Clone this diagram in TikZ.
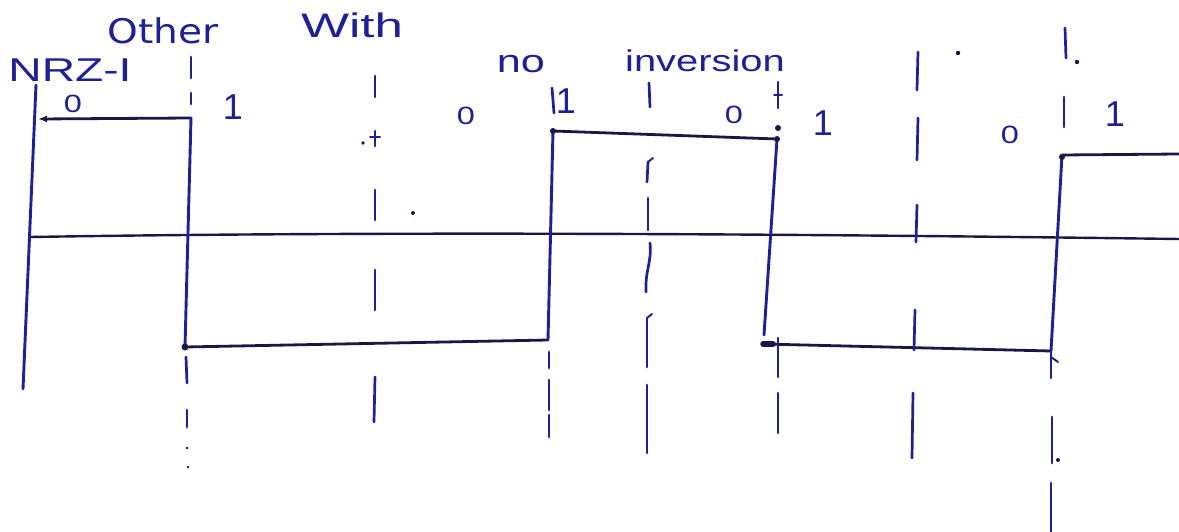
\documentclass[tikz,border=0pt]{standalone}
\usepackage{fontspec}
\setmainfont{Liberation Sans}
\newfontfamily\widefont{DejaVu Sans}
\usetikzlibrary{arrows.meta}
\definecolor{ink}{RGB}{30,32,150}
\definecolor{dark}{RGB}{24,24,72}
\newcommand{\hw}[2]{\scalebox{#1}[1]{#2}}
\tikzset{
  vline/.style={line width=2.9pt, draw=ink, line cap=round},
  hline/.style={line width=2.8pt, draw=dark, line cap=round, line join=round},
  dsh/.style={line width=2.7pt, draw=ink, line cap=round},
  lbl/.style={text=ink, inner sep=0pt, outer sep=0pt},
  zero/.style={lbl, font=\fontsize{25}{25}\selectfont},
  one/.style={lbl, font=\fontsize{36}{36}\selectfont},
}
\begin{document}
\begin{tikzpicture}[x=1pt,y=-1pt]
\useasboundingbox (0,0) rectangle (1179,532);

% titles
\node[lbl, font=\fontsize{33}{33}\selectfont] (nrz) at (70,70) {\hw{1.4}{NRZ-I}};
\node[lbl, font=\widefont\fontsize{34}{34}\selectfont] (other) at (163,31) {\hw{1.15}{Other}};
\node[lbl, font=\fontsize{34}{34}\selectfont] (with) at (352,25) {\hw{1.5}{With}};
\node[lbl, font=\fontsize{32}{32}\selectfont] (no) at (521,64) {\hw{1.35}{no}};
\node[lbl, font=\fontsize{30}{30}\selectfont] (inv) at (705,61) {\hw{1.33}{inversion}};

% bit values
\node[zero] (b1) at (73,104) {\hw{1.3}{0}};
\node[one]  (b2) at (233,107) {1};
\node[zero] (b3) at (466,116) {\hw{1.3}{0}};
\node[one]  (b4) at (566,101) {1};
\node[zero] (b5) at (734,115) {\hw{1.3}{0}};
\node[one]  (b6) at (823,123) {1};
\node[zero] (b7) at (1010,135) {\hw{1.3}{0}};
\node[one]  (b8) at (1115,114) {1};

% axis
\draw[hline, line width=2.4pt] (30,237) .. controls (400,231) and (800,234) .. (1179,239);

% waveform corners
\coordinate (p0) at (36,85);
\coordinate (p1) at (23,389);
\coordinate (a0) at (38,119);
\coordinate (a1) at (191,118);
\coordinate (c1) at (185,347);
\coordinate (c2) at (548,340);
\coordinate (c3) at (553,131);
\coordinate (c4) at (777,139);
\coordinate (c5) at (764,335);
\coordinate (c6) at (763,344);
\coordinate (c7) at (1051,351);
\coordinate (c8) at (1062,155);
\coordinate (c9) at (1179,154);

\draw[vline] (p0) -- (p1);
\draw[hline, {Latex[length=9pt,width=7pt]}-] (a0) -- (a1);
\draw[vline] (a1) -- (c1);
\draw[hline] (c1) -- (c2);
\draw[vline] (c2) -- (c3);
\draw[hline] (c3) -- (c4);
\draw[vline] (c4) -- (c5);
\draw[hline] (c6) -- (c7);
\draw[line width=5.5pt, draw=dark, line cap=round] (763,344) -- (773,344);
\draw[vline] (c7) -- (c8);
\draw[hline] (c8) -- (c9);
\fill[dark] (c1) circle (3.5pt) (c3) circle (3pt) (c4) circle (3pt);

% dashed bit boundaries (hand-drawn segments)
\foreach \xa/\ya/\xb/\yb in {
  191/57/191/78, 191/93/191/104, 186/357/187/383, 187/410/187/427,
  375/76/375/97, 375/131/375/146, 375/190/375/220, 375/270/375/310, 375/377/374/422,
  552/88/554/113, 549/352/549/368, 549/380/549/410, 549/415/549/437,
  649/83/650/107, 648/162/647/182, 648/198/648/230, 647/318/647/367, 647/385/647/453,
  778/82/778/108, 778/338/778/377, 778/393/778/433,
  918/52/917/90, 918/118/917/160, 917/205/916/242, 915/310/914/350, 913/393/912/458,
  1065/28/1066/58, 1064/97/1064/127, 1051/351/1051/378, 1052/417/1052/463, 1051/483/1051/532}
  {\draw[dsh] (\xa,\ya) -- (\xb,\yb);}
% small hooks and marks
\draw[dsh, line width=2pt] (648,162) -- (653,158);
\draw[dsh] (650,243) .. controls (652,262) and (645,270) .. (646,292);
\draw[dsh, line width=2pt] (647,318) -- (652,314);
\draw[dsh, line width=2pt] (774,95) -- (782,95);
\draw[dsh, line width=2pt] (370,137) -- (380,137);
\draw[dsh, line width=2pt] (1051,357) -- (1058,362);
\fill[dark] (778,128) circle (3pt) (1062,157) circle (3pt) (553,131) circle (2.5pt);
\fill[dark] (363,143) circle (1.8pt) (413,213) circle (2pt) (187,448) circle (1.3pt) (188,467) circle (1.3pt) (1077,62) circle (2.2pt) (958,53) circle (2.2pt) (1058,460) circle (2pt);
\end{tikzpicture}
\end{document}
